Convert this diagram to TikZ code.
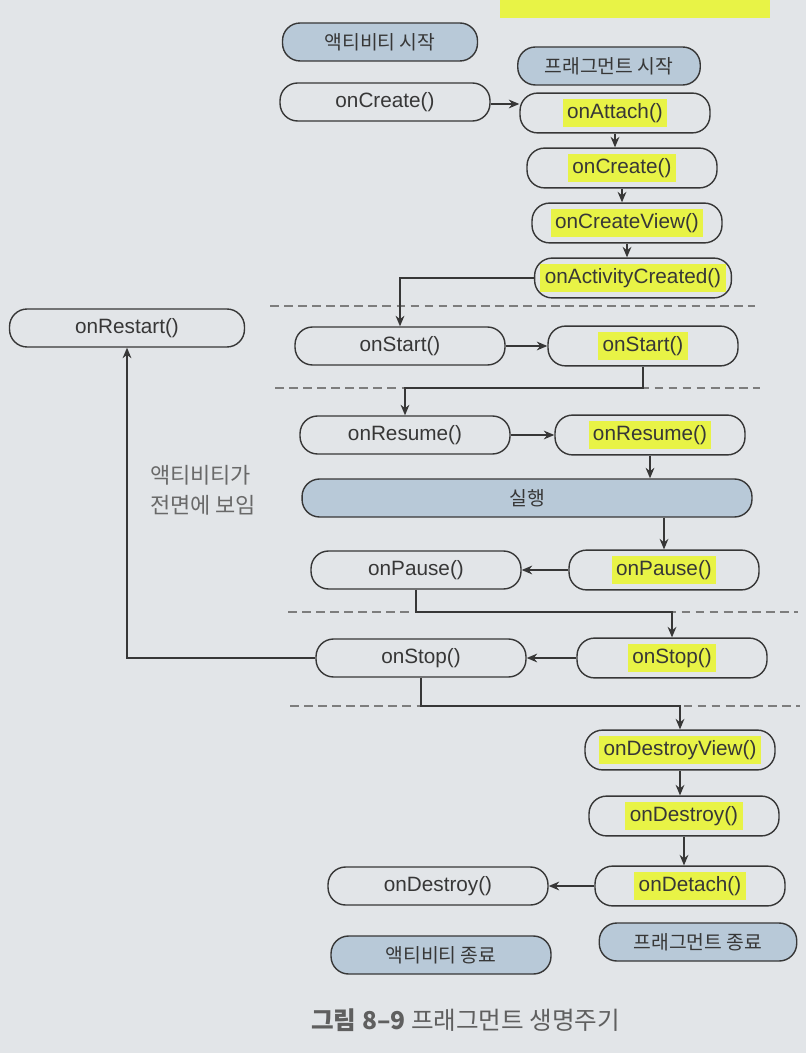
\documentclass[tikz,border=0pt]{standalone}
\usepackage{fontspec}
\setmainfont{Liberation Sans}
\newfontfamily\kor{Noto Sans CJK KR}
\usetikzlibrary{arrows.meta}

\definecolor{paper}{RGB}{226,229,232}
\definecolor{stage}{RGB}{184,201,216}
\definecolor{marker}{RGB}{232,243,70}
\definecolor{ink}{RGB}{55,55,55}
\newcommand{\hilite}[1]{{\setlength{\fboxsep}{2.5pt}\colorbox{marker}{#1}}}

\begin{document}
\begin{tikzpicture}[x=0.02cm,y=-0.02cm,
    base/.style={draw=ink,line width=0.8pt,rounded corners=10pt,
        minimum height=0.76cm,font=\fontsize{11.8}{14}\selectfont,text=ink},
    actbox/.style={base,minimum width=4.2cm},
    fragbox/.style={base,minimum width=3.8cm},
    stagebox/.style={base,fill=stage,font=\kor\fontsize{11}{13}\selectfont},
    flow/.style={draw=ink,line width=0.8pt,-{Stealth[length=6pt,width=5pt]}},
    sep/.style={draw=ink!65,line width=0.7pt,dash pattern=on 5pt off 3pt}]

\fill[paper] (0,0) rectangle (806,1053);
\useasboundingbox (0,0) rectangle (806,1053);
\fill[marker] (500,0) rectangle (770,18);

% separators
\draw[sep] (270,306) -- (755,306);
\draw[sep] (275,388) -- (760,388);
\draw[sep] (288,612) -- (798,612);
\draw[sep] (290,706) -- (800,706);

% activity column
\node[stagebox,minimum width=3.9cm] (aBegin) at (380,42) {액티비티 시작};
\node[actbox] (aCreate) at (385,102) {onCreate()};
\node[actbox,minimum width=4.7cm] (aRestart) at (127,328) {onRestart()};
\node[actbox] (aStart) at (400,346) {onStart()};
\node[actbox] (aResume) at (405,435) {onResume()};
\node[stagebox,minimum width=9cm] (run) at (527,498) {실행};
\node[actbox] (aPause) at (416,570) {onPause()};
\node[actbox] (aStop) at (421,658) {onStop()};
\node[actbox,minimum width=4.4cm] (aDestroy) at (438,886) {onDestroy()};
\node[stagebox,minimum width=4.4cm] (aEnd) at (441,955) {액티비티 종료};

% fragment column
\node[stagebox,minimum width=3.65cm] (fBegin) at (609,66) {프래그먼트 시작};
\node[fragbox] (fAttach) at (615,113) {\hilite{onAttach()}};
\node[fragbox] (fCreate) at (622,168) {\hilite{onCreate()}};
\node[fragbox] (fView) at (627,223) {\hilite{onCreateView()}};
\node[fragbox] (fActCreated) at (633,278) {\hilite{onActivityCreated()}};
\node[fragbox] (fStart) at (643,346) {\hilite{onStart()}};
\node[fragbox] (fResume) at (650,435) {\hilite{onResume()}};
\node[fragbox] (fPause) at (664,570) {\hilite{onPause()}};
\node[fragbox] (fStop) at (672,658) {\hilite{onStop()}};
\node[fragbox] (fDestroyView) at (680,750) {\hilite{onDestroyView()}};
\node[fragbox] (fDestroy) at (684,816) {\hilite{onDestroy()}};
\node[fragbox] (fDetach) at (690,886) {\hilite{onDetach()}};
\node[stagebox,minimum width=3.95cm] (fEnd) at (698,942) {프래그먼트 종료};

\coordinate (gap2) at (0,388);
\coordinate (gap3) at (0,612);
\coordinate (gap4) at (0,706);
\coordinate (hook) at (0,104);

\node[text=ink!75,align=left,font=\kor\fontsize{12.5}{17}\selectfont] (note) at (203,490) {액티비티가\\전면에 보임};

% connectors
\draw[flow] (aCreate.east |- hook) -- (fAttach.west |- hook);
\draw[flow] (fAttach.south) -- (fAttach.south |- fCreate.north);
\draw[flow] (fCreate.south) -- (fCreate.south |- fView.north);
\draw[flow] (fView.south) -- (fView.south |- fActCreated.north);
\draw[flow] (fActCreated.west) -| (aStart.north);
\draw[flow] (aStart) -- (fStart);
\draw[flow] (fStart.south) -- (fStart.south |- gap2) -| (aResume.north);
\draw[flow] (aResume) -- (fResume);
\draw[flow] (fResume.south) -- (fResume.south |- run.north);
\draw[flow] (run.south -| fPause.north) -- (fPause.north);
\draw[flow] (fPause) -- (aPause);
\draw[flow] (aPause.south) -- (aPause.south |- gap3) -| (fStop.north);
\draw[flow] (fStop) -- (aStop);
\draw[flow] (aStop.west) -| (aRestart.south);
\draw[flow] (aStop.south) -- (aStop.south |- gap4) -| (fDestroyView.north);
\draw[flow] (fDestroyView.south) -- (fDestroyView.south |- fDestroy.north);
\draw[flow] (fDestroy.south) -- (fDestroy.south |- fDetach.north);
\draw[flow] (fDetach) -- (aDestroy);

% caption
\node[text=ink!80,font=\kor\fontsize{14}{16}\selectfont,anchor=west] (caption) at (305,1020) {\textbf{그림 8–9} 프래그먼트 생명주기};
\end{tikzpicture}
\end{document}
